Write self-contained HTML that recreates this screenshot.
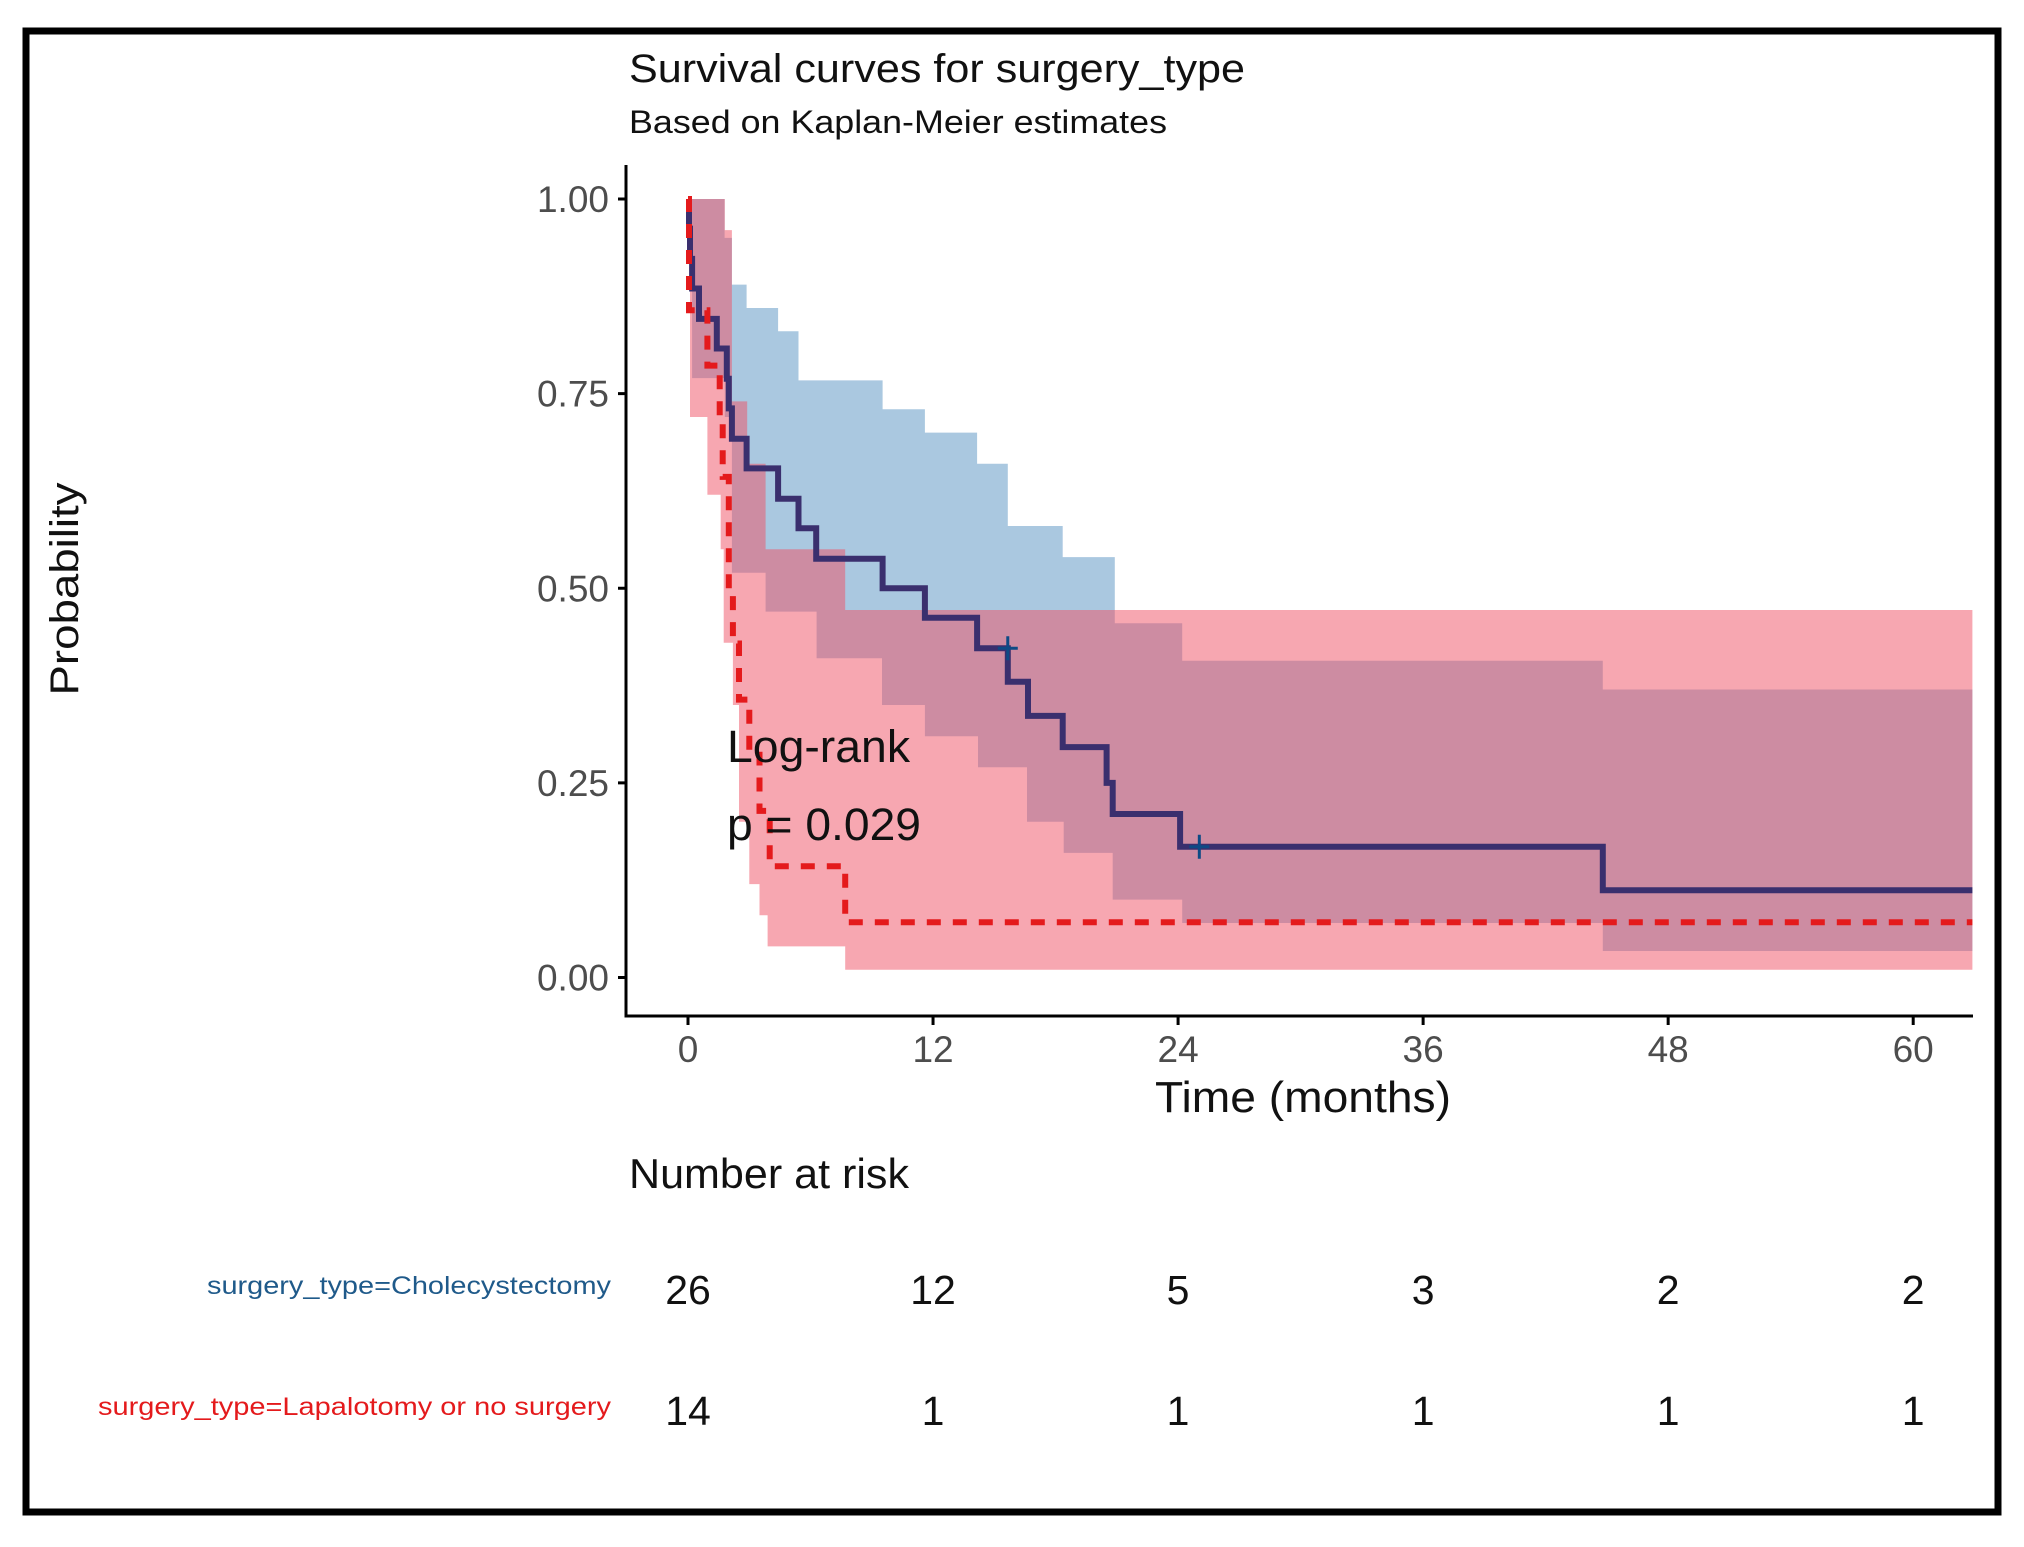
<!DOCTYPE html>
<html><head><meta charset="utf-8"><style>
html,body{margin:0;padding:0;background:#fff;}
svg{display:block;font-family:"Liberation Sans",sans-serif;}
</style></head><body>
<svg id="chart" width="2024" height="1547" viewBox="0 0 2024 1547">
<rect x="26" y="31" width="1972" height="1481" fill="#fff" stroke="#000" stroke-width="7"/>
<text x="629" y="82" font-size="40" textLength="616" lengthAdjust="spacingAndGlyphs" fill="#111">Survival curves for surgery_type</text>
<text x="629" y="133" font-size="32" textLength="538" lengthAdjust="spacingAndGlyphs" fill="#111">Based on Kaplan-Meier estimates</text>
<g id="plot"></g>
<g id="axes"></g>
<text x="0" y="0" font-size="40" fill="#111" text-anchor="middle" transform="translate(78,589) rotate(-90)" textLength="213" lengthAdjust="spacingAndGlyphs">Probability</text>
<text x="1303" y="1112" font-size="44" fill="#111" text-anchor="middle" textLength="296" lengthAdjust="spacingAndGlyphs">Time (months)</text>
<text x="727" y="762" font-size="45" fill="#111" textLength="183" lengthAdjust="spacingAndGlyphs">Log-rank</text>
<text x="727" y="840" font-size="45" fill="#111" textLength="194" lengthAdjust="spacingAndGlyphs">p = 0.029</text>
<text x="629" y="1188" font-size="42" fill="#111" textLength="280" lengthAdjust="spacingAndGlyphs">Number at risk</text>
<text x="611" y="1294" font-size="25" fill="#1f5a8a" text-anchor="end" textLength="404" lengthAdjust="spacingAndGlyphs">surgery_type=Cholecystectomy</text>
<text x="611" y="1415" font-size="25" fill="#e41a1c" text-anchor="end" textLength="513" lengthAdjust="spacingAndGlyphs">surgery_type=Lapalotomy or no surgery</text>
<g id="risk"></g>
</svg>
<script>
const xTicks=[0,12,24,36,48,60];
const yTicks=[0,0.25,0.5,0.75,1.0];
const yTickLabels=["0.00","0.25","0.50","0.75","1.00"];
const blueTimes=[0,0.05,0.1,0.2,0.54,1.41,1.9,2.0,2.15,2.87,4.41,5.41,6.28,9.53,11.6,14.16,15.66,16.65,18.35,20.5,20.8,24.1,44.8];
const blueSurv=[1,0.962,0.923,0.885,0.846,0.808,0.769,0.731,0.692,0.654,0.615,0.577,0.538,0.5,0.462,0.423,0.38,0.336,0.296,0.25,0.21,0.168,0.112];
const blueUpperT=[0,1.79,2.15,2.87,4.41,5.41,9.53,11.6,14.16,15.66,18.35,20.9,24.2,44.8];
const blueUpper=[1,0.95,0.89,0.86,0.83,0.767,0.73,0.70,0.66,0.58,0.54,0.455,0.407,0.37];
const blueLowerT=[0,0.2,1.8,2.15,3.8,6.3,9.5,11.6,14.2,16.6,18.4,20.8,24.2,44.8];
const blueLower=[0.92,0.77,0.72,0.52,0.47,0.41,0.35,0.31,0.27,0.20,0.16,0.10,0.07,0.034];
const blueCensorT=[15.66,25.04];
const blueCensorS=[0.423,0.168];
const redTimes=[0,0.05,0.95,1.55,1.7,2.0,2.2,2.5,3.0,3.5,4.0,7.7];
const redSurv=[1,0.857,0.786,0.714,0.643,0.5,0.429,0.357,0.286,0.214,0.143,0.071];
const redUpperT=[0,1.8,2.15,2.9,3.8,7.7];
const redUpper=[1,0.96,0.74,0.66,0.55,0.472];
const redLowerT=[0,0.1,0.95,1.6,1.75,2.2,2.5,3.0,3.5,3.9,7.7];
const redLower=[1,0.72,0.62,0.55,0.43,0.35,0.2,0.12,0.08,0.04,0.01];
const riskTimes=[0,12,24,36,48,60];
const riskBlue=[26,12,5,3,2,2];
const riskRed=[14,1,1,1,1,1];
const tEnd=62.9;

const NS="http://www.w3.org/2000/svg";
function X(t){return 688+t*20.42;}
function Y(p){return 977.5-p*778.5;}
function mk(tag,attrs,parent){const e=document.createElementNS(NS,tag);for(const k in attrs)e.setAttribute(k,attrs[k]);parent.appendChild(e);return e;}
function stepPts(ts,vs){const pts=[];for(let i=0;i<ts.length;i++){if(i>0)pts.push([X(ts[i]),Y(vs[i-1])]);pts.push([X(ts[i]),Y(vs[i])]);}pts.push([X(tEnd),Y(vs[vs.length-1])]);return pts;}
function linePath(pts){return "M"+pts.map(p=>p[0].toFixed(1)+","+p[1].toFixed(1)).join("L");}
function bandPath(ut,uv,lt,lv){const u=stepPts(ut,uv),l=stepPts(lt,lv).reverse();return linePath(u.concat(l))+"Z";}
const plot=document.getElementById('plot');
const bb=mk('path',{d:bandPath(blueUpperT,blueUpper,blueLowerT,blueLower),fill:'rgb(170,200,224)'},plot);


const rb=mk('path',{d:bandPath(redUpperT,redUpper,redLowerT,redLower),fill:'rgb(240,80,100)','fill-opacity':'0.5'},plot);


const bl=mk('path',{d:linePath(stepPts(blueTimes,blueSurv)),fill:'none',stroke:'#3a2f6e','stroke-width':'6'},plot);


const rl=mk('path',{d:linePath(stepPts(redTimes,redSurv)),fill:'none',stroke:'#e41a1c','stroke-width':'6','stroke-dasharray':'14,12'},plot);


for(let i=0;i<blueCensorT.length;i++){
  const c=mk('path',{d:`M${X(blueCensorT[i])-10},${Y(blueCensorS[i])}h20M${X(blueCensorT[i])},${Y(blueCensorS[i])-12}v24`,stroke:'#0d4a85','stroke-width':'3'},plot);
  
  
}
const ax=document.getElementById('axes');
const ya=mk('path',{d:'M626,165V1016H1973',fill:'none',stroke:'#000','stroke-width':'3'},ax);


for(let i=0;i<yTicks.length;i++){
  const tk=mk('line',{x1:618,x2:626,y1:Y(yTicks[i]),y2:Y(yTicks[i]),stroke:'#000','stroke-width':'3'},ax);
  
  
  const tl=mk('text',{x:609,y:Y(yTicks[i])+13,'font-size':'37','text-anchor':'end',fill:'#4d4d4d'},ax);
  tl.textContent=yTickLabels[i];
  
  
}
for(let i=0;i<xTicks.length;i++){
  const tk=mk('line',{x1:X(xTicks[i]),x2:X(xTicks[i]),y1:1016,y2:1025,stroke:'#000','stroke-width':'3'},ax);
  
  
  const tl=mk('text',{x:X(xTicks[i]),y:1062,'font-size':'37','text-anchor':'middle',fill:'#4d4d4d'},ax);
  tl.textContent=String(xTicks[i]);
  
  
}
const rk=document.getElementById('risk');
for(let i=0;i<riskTimes.length;i++){
  const a=mk('text',{x:X(riskTimes[i]),y:1304,'font-size':'41','text-anchor':'middle',fill:'#111'},rk);
  a.textContent=String(riskBlue[i]);
  
  
  const b=mk('text',{x:X(riskTimes[i]),y:1425,'font-size':'41','text-anchor':'middle',fill:'#111'},rk);
  b.textContent=String(riskRed[i]);
  
  
}
</script>
</body></html>
